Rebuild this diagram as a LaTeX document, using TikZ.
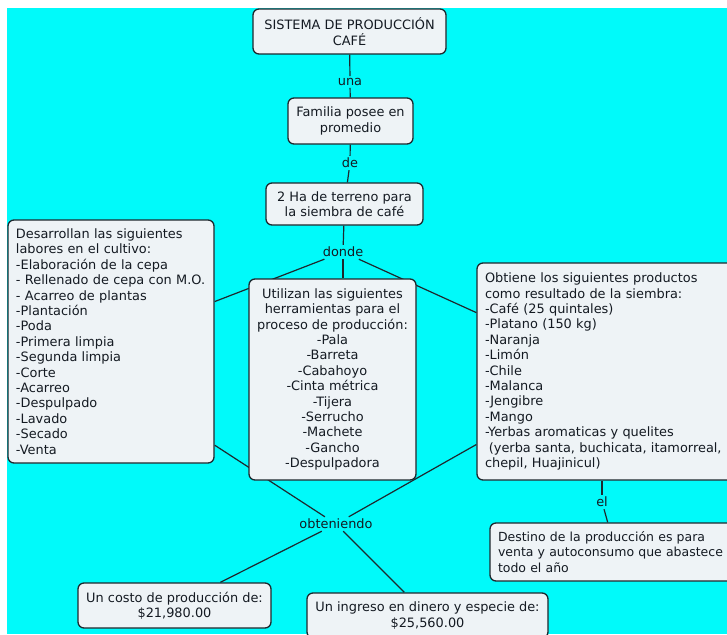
\documentclass[tikz,border=0pt]{standalone}
\usepackage{fontspec}
\setmainfont{DejaVu Sans}
\usetikzlibrary{backgrounds}
\definecolor{bgcyan}{RGB}{0,250,250}
\definecolor{boxfill}{RGB}{238,243,246}
\definecolor{inkcol}{RGB}{20,26,34}
\definecolor{edgecol}{RGB}{30,40,46}
\tikzset{
  mapfont/.style={font=\fontsize{12.9}{15.4}\selectfont, text=inkcol},
  concept/.style={mapfont, draw=edgecol, line width=1.3pt, fill=boxfill,
    rounded corners=6pt, inner sep=0pt},
  linkword/.style={mapfont, inner sep=2pt},
  link/.style={draw=edgecol, line width=1.2pt}
}
\begin{document}
\begin{tikzpicture}[x=1pt,y=-1pt]
\useasboundingbox (0,0) rectangle (727,634);
\clip (0,0) rectangle (727,634);

% concepts
\node[concept, align=center, minimum width=193pt, minimum height=45pt]
  (title) at (349.5,31.5) {SISTEMA DE PRODUCCIÓN\\CAFÉ};
\node[concept, align=center, minimum width=125pt, minimum height=46pt]
  (fam) at (350.5,121) {Familia posee en\\promedio};
\node[concept, align=center, minimum width=157pt, minimum height=42pt]
  (ha) at (344.5,204) {2 Ha de terreno para\\la siembra de café};
\node[concept, align=left, minimum width=206pt, minimum height=243pt, text width=190pt]
  (labores) at (111,341.5) {Desarrollan las siguientes\\labores en el cultivo:\\-Elaboración de la cepa\\
  - Rellenado de cepa con M.O.\\- Acarreo de plantas\\-Plantación\\-Poda\\-Primera limpia\\
  -Segunda limpia\\-Corte\\-Acarreo\\-Despulpado\\-Lavado\\-Secado\\-Venta};
\node[concept, align=center, minimum width=167pt, minimum height=201pt]
  (herr) at (332.5,379.5) {Utilizan las siguientes\\herramientas para el\\proceso de producción:\\
  -Pala\\-Barreta\\-Cabahoyo\\-Cinta métrica\\-Tijera\\-Serrucho\\-Machete\\-Gancho\\-Despulpadora};
\node[concept, align=left, minimum width=258pt, minimum height=217pt, text width=242pt]
  (prod) at (606,371.5) {Obtiene los siguientes productos\\como resultado de la siembra:\\
  -Café (25 quintales)\\-Platano (150 kg)\\-Naranja\\-Limón\\-Chile\\-Malanca\\-Jengibre\\-Mango\\
  -Yerbas aromaticas y quelites\\\hspace*{0.3em}(yerba santa, buchicata, itamorreal,\\chepil, Huajinicul)};
\node[concept, font=\fontsize{12.5}{15.4}\selectfont, align=left,
  minimum width=252pt, minimum height=58pt, text width=236pt]
  (destino) at (616,552) {Destino de la producción es para\\venta y autoconsumo que abastece\\todo el año};
\node[concept, align=center, minimum width=193pt, minimum height=45pt]
  (costo) at (174.5,605.5) {Un costo de producción de:\\\$21,980.00};
\node[concept, align=center, minimum width=241pt, minimum height=45pt]
  (ingreso) at (427.5,615.5) {Un ingreso en dinero y especie de:\\\$25,560.00};

% linking words
\node[linkword] (una) at (350,82) {una};
\node[linkword] (de) at (350,163) {de};
\node[linkword] (donde) at (343,252) {donde};
\node[linkword] (obt) at (336,524) {obteniendo};
\node[linkword] (el) at (602,502) {el};

% background and connectors
\begin{pgfonlayer}{background}
  \fill[white] (0,0) rectangle (727,634);
  \fill[bgcyan] (7,8) rectangle (727,634);
  \draw[link] (title) -- (una);
  \draw[link] (una) -- (fam);
  \draw[link] (fam) -- (de);
  \draw[link] (de) -- (ha);
  \draw[link] (ha) -- (donde);
  \draw[link] (donde) -- (labores);
  \draw[link] (donde) -- (donde |- herr.north);
  \draw[link] (donde) -- (prod);
  \draw[link] (labores.-45.7) -- (obt);
  \draw[link] (prod) -- (obt);
  \draw[link] (obt) -- (costo);
  \draw[link] (obt) -- (ingreso);
  \draw[link] (el |- prod.south) -- (el);
  \draw[link] (el) -- (destino);
\end{pgfonlayer}
\end{tikzpicture}
\end{document}
